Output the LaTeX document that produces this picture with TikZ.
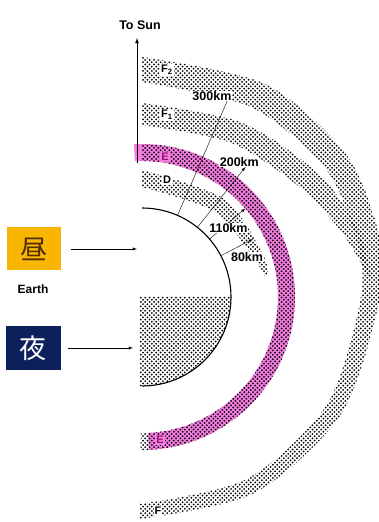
\documentclass[tikz,border=0pt]{standalone}
\usepackage{fontspec}
\setmainfont{Liberation Sans}
\newfontfamily\cjk{Noto Sans CJK JP}
\usetikzlibrary{arrows,positioning,patterns}
\usepackage{xcolor}
\definecolor{pink}{RGB}{244, 125, 224}
\definecolor{orange}{RGB}{249, 182, 0}
\definecolor{navy}{RGB}{14, 32, 92}
\definecolor{purple}{RGB}{140, 25, 110}
\definecolor{brown}{RGB}{80, 45, 5}

% staggered dot screen for the layers
\pgfdeclarepatternformonly{dots grid}{\pgfpoint{-1.5pt}{-1.5pt}}{\pgfpoint{5.5pt}{5.5pt}}{\pgfpoint{4.4pt}{4.4pt}}{%
    \pgfpathcircle{\pgfpoint{0pt}{0pt}}{1pt}%
    \pgfpathcircle{\pgfpoint{2.2pt}{2.2pt}}{1pt}%
    \pgfusepath{fill}%
}

\begin{document}
\begin{tikzpicture}[x=1pt, y=1pt, >=latex,
        layer/.style={pattern=dots grid, pattern color=black},
        tag/.style={fill=white, inner sep=1pt, font=\fontsize{11}{12}\selectfont\bfseries},
        km/.style={fill=white, inner sep=.5pt, font=\fontsize{12.5}{14}\selectfont\bfseries}]
    \useasboundingbox (-142,-225) rectangle (237,297);

        % F layer (F2 on the day side)
        \fill[layer] plot[smooth] coordinates {
            (90:240) (60:246) (35:249) (15:245) (0:238) (-30:231) (-60:226) (-90.5:222)
        } -- plot[smooth] coordinates {
            (-90.5:207) (-60:210) (-30:214) (0:219) (15:222) (35:224) (60:219) (90:215)
        } -- cycle;

        % F1 layer, runs into F2
        \fill[layer] plot[smooth] coordinates {
            (90:194) (60:201) (35:215) (18:226) (5:230)
        } -- plot[smooth] coordinates {
            (5:228) (18:210) (35:192) (60:178) (90:172)
        } -- cycle;

        % E layer
        \fill[pink] (93:136) arc[start angle=93, end angle=-87.5, radius=136]
            -- (-87.5:153) arc[start angle=-87.5, end angle=93, radius=153] -- cycle;
        \fill[layer] (90:136) arc[start angle=90, end angle=-90.5, radius=136]
            -- (-90.5:153) arc[start angle=-90.5, end angle=90, radius=153] -- cycle;

        % D layer, day side only
        \fill[layer] plot[smooth] coordinates {
            (90:127) (50:128) (20:128) (10:128)
        } -- plot[smooth] coordinates {
            (10:124) (20:118) (50:112) (90:110)
        } -- cycle;

        % night half of the earth
        \fill[layer] (-2,0) -- (0:89) arc[start angle=0, end angle=-90, radius=89] -- (-2,-89) -- cycle;
        \draw[line width=1.1pt] (90:89) arc[start angle=90, end angle=-90, radius=89];

        \node (F2) [tag] at (25,227) {F\textsubscript{2}};
        \node (F1) [tag] at (25,182) {F\textsubscript{1}};
        \node (E) [tag, fill=pink, text=purple] at (23,140) {E};
        \node (D) [tag] at (25,117) {D};
        \node (E') [tag, fill=pink, text=purple] at (18,-143) {E};
        \node (F) [tag] at (16,-214) {F};

        % direction of the sun
        \coordinate (foot) at (-5,134);
        \coordinate (tip) at (-5,259);
        \draw[->, line width=.8pt] (foot) -- (tip);
        \node (sun) [above=5pt of tip, xshift=3pt, font=\fontsize{12.5}{14}\selectfont\bfseries] {To Sun};

        % heights of the layers
        \coordinate (e300) at (66.5:89);
        \coordinate (t300) at (66.5:221);
        \coordinate (e200) at (51.5:89);
        \coordinate (t200) at (51.5:166);
        \coordinate (e110) at (40.6:89);
        \coordinate (t110) at (40.6:136);
        \coordinate (e80) at (27.6:89);
        \coordinate (t80) at (27.6:125);
        \draw[->] (e300) -- (t300);
        \draw[->] (e200) -- (t200);
        \draw[->] (e110) -- (t110);
        \draw[->] (e80) -- (t80);
        \node (l300) [km, anchor=east] at ([xshift=2pt, yshift=-2pt]t300) {300km};
        \node (l200) [km, anchor=south] at ([xshift=-6pt, yshift=0pt]t200) {200km};
        \node (l110) [km, anchor=north east] at ([xshift=3pt, yshift=-14pt]t110) {110km};
        \node (l80) [km, anchor=north east] at ([xshift=11pt, yshift=-13pt]t80) {80km};

        % day and night
        \node (1) [
            fill=orange,
            minimum width=54pt,
            minimum height=43pt,
            text=brown,
            font=\cjk\fontsize{27}{27}\selectfont
        ] at (-108,48) {昼};
        \node (2) [
            fill=navy,
            minimum width=55pt,
            minimum height=43pt,
            text=white,
            font=\cjk\fontsize{27}{27}\selectfont
        ] at (-108.5,-51) {夜};
        \node (3) [font=\fontsize{12}{14}\selectfont\bfseries] at (-109,8) {Earth};
        \coordinate (day) at (-5,48);
        \coordinate (night) at (-9,-51);
        \draw[->, shorten <=10pt] (1) -- (day);
        \draw[->, shorten <=7pt] (2) -- (night);
    \end{tikzpicture}
\end{document}
